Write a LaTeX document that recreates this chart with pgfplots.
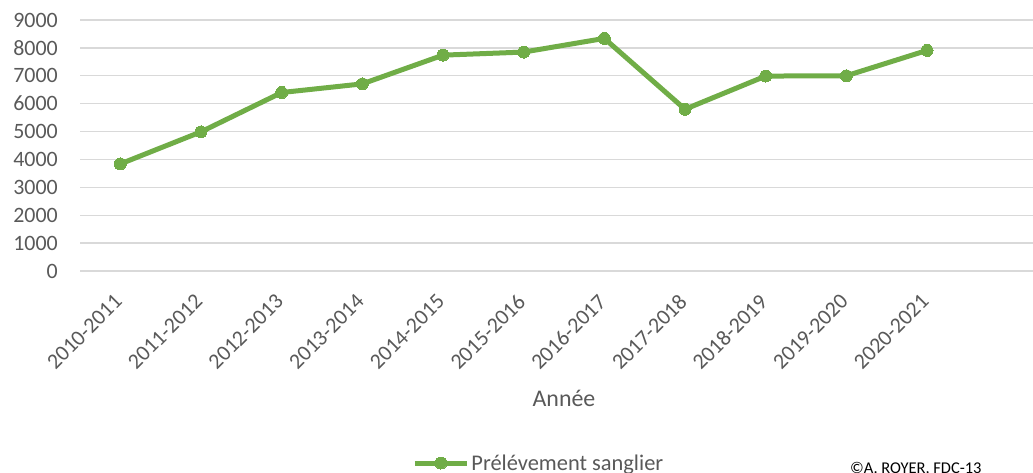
\documentclass[border=0pt]{standalone}
\usepackage{pgfplots}
\pgfplotsset{compat=1.18}
\usepackage{fontspec}
\setmainfont{Carlito}
\definecolor{lgreen}{HTML}{70AD47}
\definecolor{txtgray}{HTML}{595959}
\definecolor{gridgray}{HTML}{D9D9D9}
\begin{document}
\begin{tikzpicture}
\useasboundingbox (0,0) rectangle (1033bp,473bp);
\begin{axis}[
  at={(80bp,202bp)}, anchor=south west,
  scale only axis, width=968bp, height=251bp,
  xmin=-0.5, xmax=11.5, ymin=0, ymax=9000,
  axis line style={draw=none},
  ytick={0,1000,...,9000},
  ymajorgrids, major grid style={gridgray, line width=1.3bp},
  xtick={0,...,10},
  xticklabels={2010-2011,2011-2012,2012-2013,2013-2014,2014-2015,2015-2016,2016-2017,2017-2018,2018-2019,2019-2020,2020-2021},
  major tick length=0pt,
  tick label style={font=\fontsize{22}{26}\selectfont, text=txtgray},
  /pgf/number format/assume math mode=true,
  /pgf/number format/1000 sep={},
  yticklabel style={anchor=east, inner sep=0pt, xshift=-22bp},
  xticklabel style={inner sep=0pt, anchor=east, xshift=-2bp, yshift=-27bp, rotate=45},
  xlabel={Année},
  xlabel style={at={(axis description cs:0.5,-0.506)}, anchor=center, font=\fontsize{24}{28}\selectfont, text=txtgray},
  legend style={draw=none, at={(axis description cs:0.474,-0.765)}, anchor=center, font=\fontsize{22.5}{26}\selectfont, text=txtgray, inner sep=0pt},
  legend image code/.code={\draw[#1, mark repeat=2, mark phase=2] plot coordinates {(0bp,0bp) (26bp,0bp) (52bp,0bp)};},
]
\addplot[lgreen, line width=5bp, mark=*, mark size=6bp, mark options={solid, fill=lgreen, draw=lgreen, line width=0pt}]
  coordinates {(0,3840) (1,4990) (2,6400) (3,6710) (4,7740) (5,7850) (6,8340) (7,5800) (8,6990) (9,7000) (10,7910)};
\addlegendentry{Prélévement sanglier}
\end{axis}
\node[anchor=base west, font=\fontsize{16.5}{19}\selectfont, inner sep=0pt] at (850bp,-0.5bp) {©A. ROYER, FDC-13};
\end{tikzpicture}
\end{document}
